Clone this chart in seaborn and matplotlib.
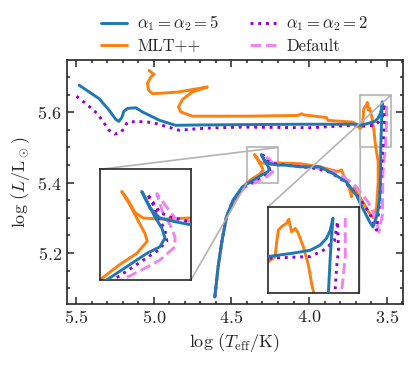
import numpy as np
import pandas as pd
import matplotlib
matplotlib.use("Agg")
import matplotlib.pyplot as plt
import seaborn as sns
from mpl_toolkits.axes_grid1.inset_locator import mark_inset

# HR-diagram tracks (log Teff, log L)
a5_logt = [4.607, 4.586, 4.564, 4.532, 4.490, 4.430, 4.385, 4.341, 4.297, 4.268,
           4.257, 4.264, 4.279, 4.294, 4.308, 4.290, 4.268, 4.239, 4.202, 4.157,
           4.060, 3.931, 3.846, 3.760, 3.695, 3.653, 3.609, 3.588, 3.560, 3.545,
           3.539, 3.538, 3.534, 3.531, 3.528, 3.534, 3.542, 3.556, 3.578, 3.615,
           3.670, 3.695, 3.867, 4.080, 4.408, 4.704, 4.859, 4.962, 5.073, 5.116,
           5.168, 5.193, 5.206, 5.225, 5.245, 5.288, 5.353, 5.481]
a5_logl = [5.075, 5.160, 5.227, 5.303, 5.350, 5.388, 5.400, 5.412, 5.424, 5.430,
           5.438, 5.447, 5.457, 5.469, 5.480, 5.465, 5.456, 5.453, 5.450, 5.450,
           5.445, 5.445, 5.426, 5.402, 5.364, 5.326, 5.288, 5.274, 5.310, 5.355,
           5.430, 5.502, 5.563, 5.600, 5.630, 5.609, 5.595, 5.583, 5.574, 5.569,
           5.563, 5.566, 5.566, 5.566, 5.565, 5.564, 5.563, 5.577, 5.601, 5.613,
           5.611, 5.603, 5.585, 5.574, 5.580, 5.606, 5.639, 5.677]

mlt_logt = [4.607, 4.586, 4.564, 4.532, 4.499, 4.440, 4.400, 4.356, 4.319, 4.296,
            4.301, 4.319, 4.334, 4.352, 4.338, 4.323, 4.305, 4.268, 4.202, 4.060,
            3.929, 3.846, 3.810, 3.790, 3.779, 3.755, 3.735, 3.727, 3.720, 3.710,
            3.695, 3.653, 3.610, 3.585, 3.565, 3.555, 3.555, 3.571, 3.575, 3.582,
            3.593, 3.605, 3.611, 3.619, 3.625, 3.630, 3.641, 3.648, 3.652, 3.655,
            3.670, 3.717, 3.878, 3.888, 4.039, 4.049, 4.071, 4.403, 4.751, 4.826,
            4.841, 4.816, 4.751, 4.655, 4.837, 4.923, 5.009, 5.034, 5.041, 5.020,
            4.998, 5.020, 5.031]
mlt_logl = [5.075, 5.160, 5.227, 5.303, 5.331, 5.375, 5.400, 5.414, 5.424, 5.435,
            5.442, 5.456, 5.468, 5.480, 5.472, 5.461, 5.456, 5.455, 5.456, 5.454,
            5.445, 5.435, 5.432, 5.436, 5.421, 5.400, 5.375, 5.360, 5.380, 5.385,
            5.374, 5.345, 5.312, 5.300, 5.330, 5.400, 5.460, 5.502, 5.516, 5.548,
            5.580, 5.605, 5.612, 5.606, 5.628, 5.621, 5.615, 5.609, 5.586, 5.563,
            5.554, 5.572, 5.577, 5.585, 5.593, 5.596, 5.591, 5.589, 5.589, 5.601,
            5.615, 5.636, 5.658, 5.672, 5.658, 5.655, 5.653, 5.663, 5.682, 5.700,
            5.708, 5.715, 5.719]

a2_logt = [4.607, 4.586, 4.564, 4.532, 4.490, 4.420, 4.363, 4.319, 4.275, 4.253,
           4.257, 4.272, 4.283, 4.296, 4.268, 4.246, 4.206, 4.100, 3.950, 3.870,
           3.814, 3.770, 3.717, 3.674, 3.631, 3.599, 3.566, 3.548, 3.535, 3.523,
           3.520, 3.516, 3.517, 3.518, 3.525, 3.549, 3.578, 3.670, 3.717, 4.000,
           4.429, 4.665, 4.837, 4.923, 5.009, 5.105, 5.170, 5.208, 5.251, 5.288,
           5.363, 5.438, 5.514]
a2_logl = [5.075, 5.160, 5.227, 5.303, 5.350, 5.388, 5.402, 5.414, 5.426, 5.435,
           5.445, 5.457, 5.468, 5.478, 5.461, 5.457, 5.453, 5.448, 5.440, 5.430,
           5.416, 5.402, 5.378, 5.355, 5.326, 5.303, 5.265, 5.330, 5.430, 5.508,
           5.545, 5.574, 5.600, 5.624, 5.590, 5.574, 5.563, 5.560, 5.563, 5.556,
           5.558, 5.555, 5.549, 5.560, 5.571, 5.574, 5.572, 5.544, 5.538, 5.549,
           5.596, 5.625, 5.651]

def_logt = [4.607, 4.586, 4.564, 4.532, 4.490, 4.410, 4.352, 4.308, 4.268, 4.235,
            4.235, 4.246, 4.261, 4.275, 4.257, 4.231, 4.202, 4.100, 3.950, 3.850,
            3.790, 3.749, 3.695, 3.653, 3.620, 3.588, 3.556, 3.550, 3.528, 3.524,
            3.509, 3.501, 3.501]
def_logl = [5.075, 5.160, 5.227, 5.303, 5.350, 5.388, 5.400, 5.409, 5.418, 5.430,
            5.439, 5.450, 5.460, 5.478, 5.468, 5.454, 5.453, 5.449, 5.442, 5.432,
            5.420, 5.407, 5.388, 5.364, 5.345, 5.317, 5.274, 5.260, 5.307, 5.430,
            5.502, 5.563, 5.630]

sns.set_theme(style="ticks")
plt.rcParams["font.family"] = ["serif"]
plt.rcParams["font.serif"] = ["cmr10", "DejaVu Serif"]
plt.rcParams["mathtext.fontset"] = "cm"
plt.rcParams["axes.formatter.use_mathtext"] = True
plt.rcParams["font.size"] = 12
plt.rcParams["axes.linewidth"] = 1.2

tracks = [
    (a5_logt, a5_logl, r"$\alpha_1=\alpha_2=5$", "#1f77b4", "-", 4),
    (mlt_logt, mlt_logl, "MLT++", "#ff7f0e", "-", 2),
    (a2_logt, a2_logl, r"$\alpha_1=\alpha_2=2$", "darkviolet", ":", 2.5),
    (def_logt, def_logl, "Default", "violet", "--", 2.2),
]

fig = plt.figure(figsize=(4.16, 3.65), dpi=100)
ax = fig.add_axes([0.160, 0.167, 0.808, 0.668])
ins1 = fig.add_axes([0.240, 0.233, 0.219, 0.303])
ins2 = fig.add_axes([0.645, 0.198, 0.219, 0.236])

for a in [ax, ins1, ins2]:
    for xs, ys, lab, col, ls, z in tracks:
        df = pd.DataFrame({"logt": xs, "logl": ys})
        sns.lineplot(data=df, x="logt", y="logl", sort=False, estimator=None,
                     ax=a, color=col, linestyle=ls, lw=2.1, zorder=z,
                     label=lab if a is ax else None, legend=False)

ax.set_xlim(5.562, 3.397)
ax.set_ylim(5.055, 5.748)
ax.set_xticks([5.5, 5.0, 4.5, 4.0, 3.5])
ax.set_yticks([5.2, 5.4, 5.6])
ax.xaxis.set_minor_locator(matplotlib.ticker.MultipleLocator(0.1))
ax.yaxis.set_minor_locator(matplotlib.ticker.MultipleLocator(0.05))
ax.tick_params(which="both", direction="in", top=True, right=True, width=1.1)
ax.tick_params(which="major", length=5, labelsize=13)
ax.tick_params(which="minor", length=2.5)
ax.set_xlabel(r"$\log\,(T_\mathrm{eff}/\mathrm{K})$", fontsize=13)
ax.set_ylabel(r"$\log\,(L/\mathrm{L}_\odot)$", fontsize=13)

ins1.set_xlim(4.40, 4.20)
ins1.set_ylim(5.40, 5.50)
ins2.set_xlim(3.67, 3.47)
ins2.set_ylim(5.50, 5.65)
for a in [ins1, ins2]:
    a.set_xticks([])
    a.set_yticks([])
    a.set_xlabel("")
    a.set_ylabel("")
    for s in a.spines.values():
        s.set_linewidth(1.2)
    mark_inset(ax, a, loc1=2, loc2=4, fc="none", ec="0.7", lw=1.2)

handles, labels = ax.get_legend_handles_labels()
ax.legend(handles, labels, loc="lower center", bbox_to_anchor=(0.5, 0.965),
          ncol=2, frameon=False, fontsize=12, handlelength=1.6,
          columnspacing=1.8, handletextpad=0.6, labelspacing=0.3)

fig.savefig("out.png", dpi=100)
